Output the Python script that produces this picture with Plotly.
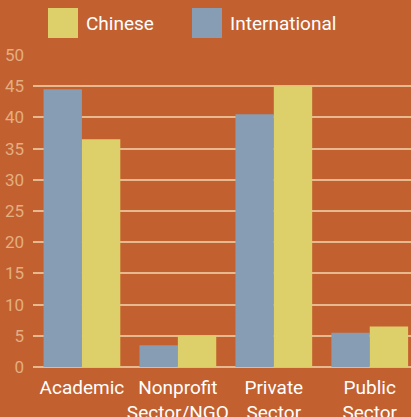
import plotly.graph_objects as go

categories = ["Academic", "Nonprofit<br>Sector/NGO", "Private<br>Sector", "Public<br>Sector"]
international = [44.5, 3.5, 40.5, 5.5]
chinese = [36.5, 5.0, 45.0, 6.5]
y_ticks = [0, 5, 10, 15, 20, 25, 30, 35, 40, 45, 50]

BG = "#C3602F"
BLUE = "#879DB3"
YELLOW = "#DDD06A"
GRID = "#E6B98E"
TICK = "#E3AE80"
FONT = "Roboto, sans-serif"

x = list(range(len(categories)))
fig = go.Figure()
fig.add_trace(go.Bar(x=x, y=international, name="International", marker=dict(color=BLUE, line=dict(width=0))))
fig.add_trace(go.Bar(x=x, y=chinese, name="Chinese", marker=dict(color=YELLOW, line=dict(width=0))))

fig.update_layout(
    width=411, height=417,
    paper_bgcolor=BG, plot_bgcolor=BG,
    margin=dict(l=33, r=0, t=55, b=50),
    barmode="group", bargap=0.2, bargroupgap=0,
    showlegend=False,
    font=dict(family=FONT, color="white"),
    xaxis=dict(
        range=[-0.51, 3.43], tickmode="array", tickvals=x, ticktext=categories,
        showgrid=False, zeroline=False, showline=False, ticks="", automargin=False,
        ticklabelstandoff=7,
        tickfont=dict(size=19, color="white", family=FONT),
    ),
    yaxis=dict(
        range=[0, 50], tickmode="array", tickvals=y_ticks,
        showgrid=True, gridcolor=GRID, gridwidth=1.5,
        zeroline=True, zerolinecolor=GRID, zerolinewidth=1.5,
        showline=False, ticks="", ticklabelstandoff=8, automargin=False,
        tickfont=dict(size=17, color=TICK, family=FONT),
    ),
)

# legend drawn as squares + labels
legend_items = [("Chinese", YELLOW, 48), ("International", BLUE, 192)]
for label, color, x0 in legend_items:
    fig.add_shape(type="rect", xref="paper", yref="paper",
                  x0=(x0 - 33) / 378, x1=(x0 + 30 - 33) / 378,
                  y0=(367 - 38) / 312, y1=(367 - 8) / 312,
                  fillcolor=color, line=dict(width=0))
    fig.add_annotation(xref="paper", yref="paper", x=(x0 + 36 - 33) / 378, y=(367 - 24) / 312,
                       text=label, showarrow=False, xanchor="left", yanchor="middle",
                       font=dict(size=19, color="white", family=FONT))

fig.write_html("out.html", config={"displayModeBar": False},
               post_script="document.body.style.margin='0';document.body.style.overflow='hidden';")
